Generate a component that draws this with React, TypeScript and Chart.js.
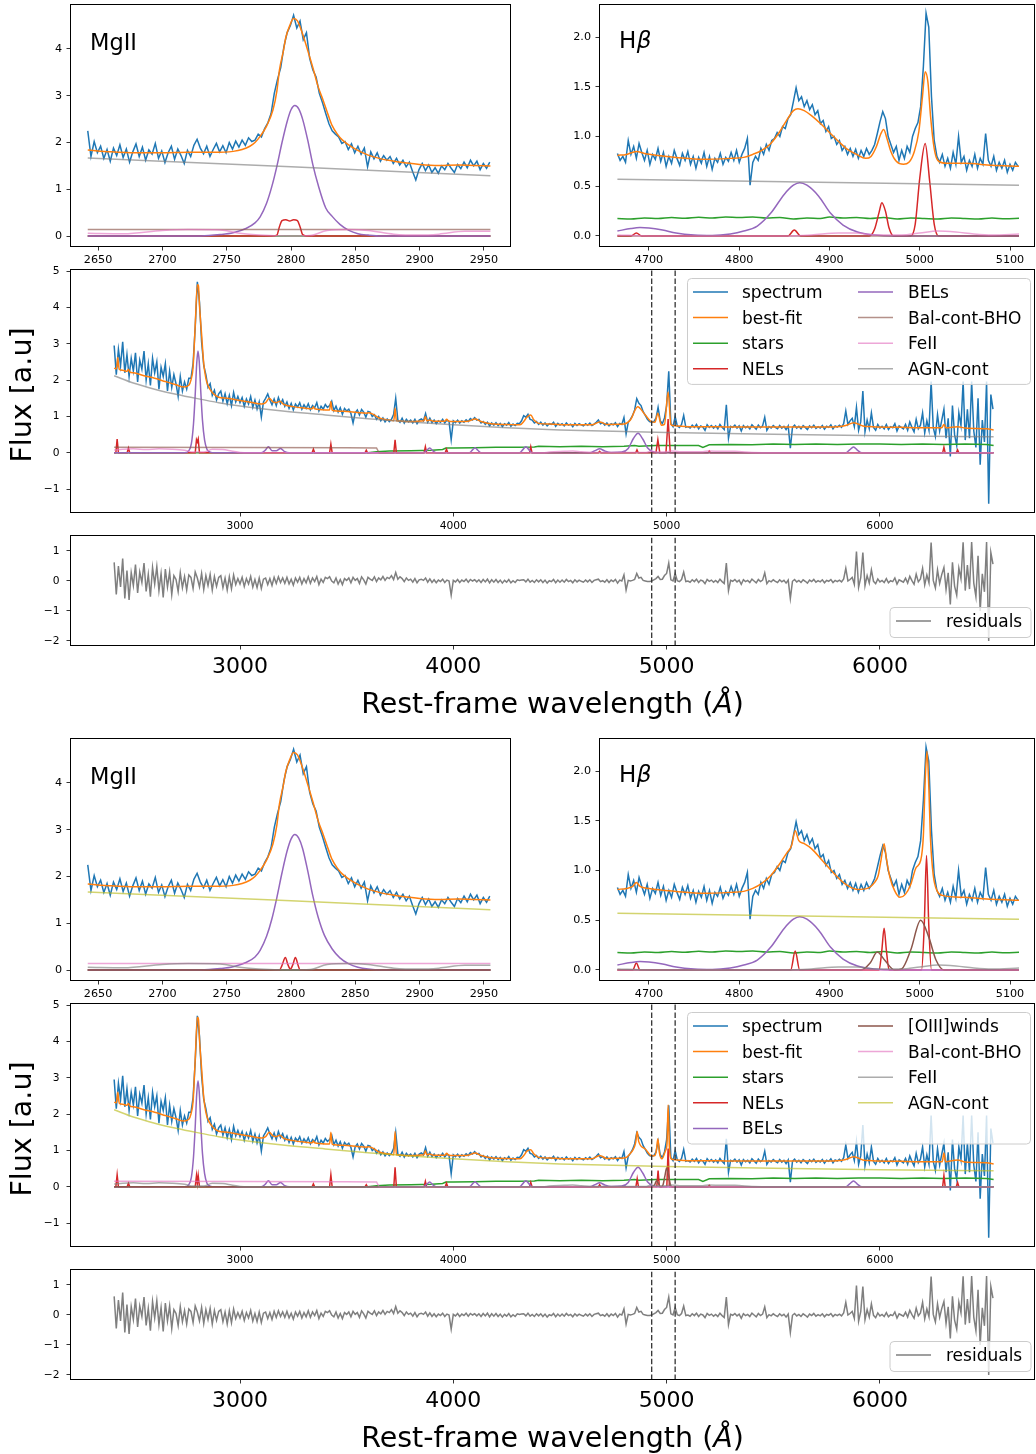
import React, { useEffect, useRef } from 'react';
import { Chart, registerables } from 'chart.js';

Chart.register(...registerables);

type Pt = [number, number];

// ---------------- DATA ----------------
// MgII inset spectrum (regular grid)
const MGII_SPEC_START = 2642;
const MGII_SPEC_STEP = 2.5;
const MGII_SPEC = [
  2.25, 1.70, 2.02, 1.78, 1.92, 1.66, 1.85, 1.60, 1.88, 1.72,
  1.95, 1.68, 1.86, 1.58, 1.80, 1.97, 1.70, 1.90, 1.62, 1.84,
  1.75, 1.98, 1.66, 1.82, 1.57, 1.78, 1.92, 1.64, 1.86, 1.72,
  1.55, 1.83, 1.70, 1.94, 2.07, 1.88, 1.76, 1.92, 1.70, 1.85,
  1.98, 1.80, 1.93, 1.78, 2.00, 1.86, 2.03, 1.90, 2.05, 1.94,
  2.10, 2.02, 2.05, 2.18, 2.12, 2.30, 2.42, 2.62, 3.05, 3.35,
  3.60, 4.05, 4.35, 4.50, 4.72, 4.45, 4.60, 4.20, 4.35, 3.80,
  3.55, 3.40, 3.05, 2.85, 2.62, 2.40, 2.25, 2.18, 2.12, 1.98,
  2.02, 1.85, 1.97, 1.78, 1.92, 1.75, 1.88, 1.48, 1.80, 1.65,
  1.78, 1.60, 1.72, 1.62, 1.70, 1.55, 1.66, 1.52, 1.62, 1.48,
  1.58, 1.38, 1.20, 1.42, 1.55, 1.40, 1.52, 1.36, 1.46, 1.34,
  1.50, 1.42, 1.55, 1.45, 1.36, 1.53, 1.44, 1.58, 1.46, 1.62,
  1.50, 1.60, 1.42, 1.55, 1.45, 1.58,
];
const MGII_BESTFIT: Pt[] = [
  [2642, 1.84], [2660, 1.80], [2680, 1.78], [2700, 1.78], [2720, 1.79], [2740, 1.79], [2755, 1.81],
  [2762, 1.85], [2768, 1.92], [2772, 2.0], [2776, 2.13], [2781, 2.35], [2786, 2.7], [2789, 3.1],
  [2791, 3.55], [2794, 3.95], [2796, 4.25], [2799, 4.5], [2802, 4.65], [2805, 4.6], [2808, 4.4],
  [2812, 4.06], [2817, 3.6], [2821, 3.2], [2825, 2.9], [2829, 2.58], [2832, 2.36], [2836, 2.18],
  [2840, 2.05], [2848, 1.89], [2860, 1.73], [2870, 1.65], [2880, 1.6], [2890, 1.56], [2900, 1.53],
  [2915, 1.51], [2930, 1.52], [2942, 1.51], [2955, 1.5],
];
const MGII_ZERO: Pt[] = [[2642, 0], [2955, 0]];
const MGII_NELS_1: Pt[] = [
  [2642, 0], [2785, 0], [2789, 0.02], [2791, 0.2], [2793, 0.33], [2796, 0.35], [2799, 0.32],
  [2802, 0.35], [2805, 0.33], [2807, 0.2], [2809, 0.03], [2812, 0], [2955, 0],
];
const MGII_NELS_2: Pt[] = [
  [2642, 0], [2791, 0], [2793, 0.1], [2795.6, 0.27], [2797.5, 0.12], [2799.5, 0.02],
  [2801.5, 0.12], [2803.4, 0.27], [2805.5, 0.1], [2807, 0], [2955, 0],
];
const MGII_BELS_1: Pt[] = [
  [2642, 0], [2730, 0], [2745, 0.03], [2755, 0.07], [2765, 0.16], [2772, 0.28], [2776, 0.41],
  [2781, 0.7], [2785, 1.05], [2789, 1.49], [2793, 2.0], [2797, 2.45], [2800, 2.7], [2803, 2.79],
  [2806, 2.72], [2809, 2.5], [2813, 2.05], [2817, 1.52], [2821, 1.1], [2827, 0.6], [2832, 0.42],
  [2838, 0.25], [2845, 0.12], [2852, 0.05], [2860, 0.02], [2870, 0], [2955, 0],
];
const MGII_BELS_2: Pt[] = [
  [2642, 0], [2730, 0], [2745, 0.03], [2755, 0.07], [2765, 0.16], [2772, 0.28], [2776, 0.42],
  [2781, 0.72], [2785, 1.08], [2789, 1.55], [2793, 2.08], [2797, 2.55], [2800, 2.8], [2803, 2.9],
  [2806, 2.82], [2809, 2.6], [2813, 2.12], [2817, 1.58], [2821, 1.14], [2826, 0.74], [2832, 0.45],
  [2838, 0.26], [2845, 0.13], [2852, 0.06], [2860, 0.02], [2870, 0], [2955, 0],
];
const MGII_BALCONT: Pt[] = [[2642, 0.14], [2955, 0.14]];
const MGII_FEII: Pt[] = [
  [2642, 0.06], [2670, 0.05], [2700, 0.12], [2720, 0.14], [2745, 0.13], [2760, 0.06], [2775, 0.02],
  [2800, 0.0], [2815, 0.01], [2828, 0.12], [2845, 0.14], [2860, 0.12], [2880, 0.04], [2900, 0.02],
  [2915, 0.04], [2935, 0.1], [2955, 0.1],
];
const MGII_AGN: Pt[] = [[2642, 1.67], [2800, 1.48], [2955, 1.29]];

// Hbeta inset spectrum (regular grid)
const HB_SPEC_START = 4665;
const HB_SPEC_STEP = 3;
const HB_SPEC = [
  0.83, 0.76, 0.80, 0.74, 0.96, 0.82, 0.90, 0.78, 0.93, 0.84,
  0.76, 0.86, 0.72, 0.82, 0.77, 0.88, 0.75, 0.84, 0.70, 0.80,
  0.73, 0.86, 0.78, 0.71, 0.83, 0.76, 0.85, 0.72, 0.80, 0.68,
  0.79, 0.73, 0.84, 0.70, 0.80, 0.67, 0.78, 0.74, 0.83, 0.72,
  0.79, 0.75, 0.84, 0.76, 0.86, 0.74, 0.82, 0.88, 0.98, 0.51,
  0.74, 0.80, 0.76, 0.88, 0.82, 0.92, 0.86, 0.96, 0.98, 1.04,
  1.00, 1.10, 1.08, 1.18, 1.22, 1.35, 1.49, 1.36, 1.40, 1.30,
  1.36, 1.27, 1.32, 1.22, 1.26, 1.13, 1.16, 1.05, 1.10, 0.98,
  1.00, 0.92, 0.96, 0.86, 0.90, 0.82, 0.88, 0.80, 0.87, 0.78,
  0.86, 0.80, 0.88, 0.82, 0.86, 0.92, 1.03, 1.15, 1.25, 1.18,
  1.00, 0.92, 0.84, 0.90, 0.76, 0.86, 0.78, 0.90, 0.84, 1.00,
  1.08, 1.14, 1.30, 1.70, 2.24, 2.10, 1.40, 0.96, 0.80, 0.74,
  0.82, 0.70, 0.78, 0.68, 0.84, 0.72, 1.00, 0.74, 0.80, 0.66,
  0.76, 0.70, 0.82, 0.68, 0.78, 0.72, 1.03, 0.76, 0.70, 0.80,
  0.66, 0.74, 0.68, 0.76, 0.64, 0.72, 0.66, 0.74, 0.70,
];
const HB_BESTFIT_1: Pt[] = [
  [4665, 0.81], [4675, 0.82], [4686, 0.85], [4695, 0.83], [4710, 0.81], [4730, 0.79], [4760, 0.77],
  [4790, 0.78], [4805, 0.79], [4815, 0.82], [4825, 0.86], [4835, 0.93], [4845, 1.05], [4853, 1.17],
  [4860, 1.26], [4865, 1.28], [4872, 1.26], [4880, 1.21], [4890, 1.13], [4900, 1.04], [4910, 0.95],
  [4920, 0.87], [4930, 0.82], [4940, 0.78], [4946, 0.8], [4952, 0.9], [4957, 1.03], [4960, 1.07],
  [4964, 0.97], [4968, 0.85], [4974, 0.75], [4982, 0.72], [4988, 0.74], [4994, 0.85], [4999, 1.05],
  [5003, 1.4], [5006, 1.65], [5009, 1.55], [5012, 1.2], [5016, 0.88], [5020, 0.76], [5030, 0.73],
  [5050, 0.73], [5080, 0.71], [5110, 0.7],
];
const HB_BESTFIT_2: Pt[] = [
  [4665, 0.81], [4675, 0.82], [4682, 0.84], [4686, 0.88], [4690, 0.84], [4700, 0.82], [4730, 0.79],
  [4760, 0.77], [4790, 0.78], [4805, 0.79], [4815, 0.82], [4825, 0.87], [4835, 0.95], [4845, 1.07],
  [4853, 1.18], [4858, 1.25], [4862, 1.4], [4866, 1.3], [4872, 1.27], [4880, 1.22], [4893, 1.09],
  [4905, 0.97], [4918, 0.86], [4931, 0.81], [4942, 0.82], [4950, 0.88], [4954, 0.95], [4957, 1.1],
  [4960.5, 1.27], [4963, 1.12], [4967, 0.93], [4972, 0.8], [4978, 0.73], [4984, 0.76], [4990, 0.86],
  [4996, 1.03], [5001, 1.1], [5004, 1.35], [5006, 1.9], [5008, 2.2], [5010, 1.85], [5012, 1.3],
  [5015, 0.95], [5019, 0.8], [5025, 0.75], [5050, 0.73], [5080, 0.71], [5110, 0.7],
];
const HB_STARS: Pt[] = [
  [4665, 0.175], [4680, 0.17], [4695, 0.18], [4710, 0.175], [4725, 0.185], [4740, 0.178], [4755, 0.188],
  [4770, 0.18], [4785, 0.19], [4800, 0.185], [4815, 0.19], [4830, 0.18], [4845, 0.185], [4860, 0.17],
  [4875, 0.18], [4890, 0.175], [4900, 0.19], [4915, 0.18], [4930, 0.185], [4945, 0.175], [4960, 0.185],
  [4975, 0.17], [4990, 0.18], [5005, 0.175], [5020, 0.17], [5035, 0.18], [5050, 0.175], [5065, 0.17],
  [5080, 0.18], [5095, 0.172], [5110, 0.178],
];
const HB_NELS_1: Pt[] = [
  [4665, 0], [4680, 0], [4686, 0.03], [4692, 0], [4854, 0], [4861, 0.06], [4868, 0], [4944, 0],
  [4950, 0.07], [4955, 0.24], [4958, 0.335], [4962, 0.25], [4966, 0.08], [4971, 0], [4990, 0],
  [4995, 0.12], [5000, 0.58], [5006, 0.93], [5011, 0.55], [5016, 0.12], [5021, 0], [5110, 0],
];
const HB_NELS_2: Pt[] = [
  [4665, 0], [4682, 0], [4686, 0.07], [4690, 0], [4857, 0], [4862, 0.19], [4867, 0], [4955, 0],
  [4958, 0.2], [4960.5, 0.42], [4963, 0.2], [4966, 0], [5002, 0], [5005, 0.45], [5007.5, 1.15],
  [5010, 0.45], [5013, 0], [5110, 0],
];
const HB_BELS: Pt[] = [
  [4665, 0.05], [4680, 0.075], [4690, 0.084], [4700, 0.08], [4715, 0.06], [4730, 0.03], [4750, 0.01],
  [4770, 0.005], [4790, 0.02], [4805, 0.05], [4820, 0.1], [4835, 0.23], [4850, 0.42], [4860, 0.51],
  [4867, 0.536], [4875, 0.51], [4888, 0.4], [4901, 0.23], [4915, 0.11], [4931, 0.04], [4950, 0.01],
  [4970, 0], [5110, 0],
];
const HB_OIII_WINDS: Pt[] = [
  [4665, 0], [4935, 0], [4945, 0.07], [4953, 0.18], [4961, 0.1], [4972, 0], [4980, 0.01], [4990, 0.2],
  [5001, 0.5], [5010, 0.33], [5018, 0.1], [5027, 0], [5110, 0],
];
const HB_ZERO: Pt[] = [[4665, 0], [5110, 0]];
const HB_FEII: Pt[] = [
  [4665, 0.01], [4700, 0.0], [4850, 0.0], [4880, 0.01], [4910, 0.03], [4930, 0.03], [4950, 0.01],
  [4980, 0.01], [5000, 0.03], [5020, 0.05], [5040, 0.04], [5060, 0.02], [5080, 0.01], [5110, 0.02],
];
const HB_AGN: Pt[] = [[4665, 0.57], [5110, 0.51]];

// Full spectrum (regular grid)
const MAIN_START = 2410;
const MAIN_STEP = 10;
const MAIN_SPEC = [
  2.95, 2.15, 2.85, 2.40, 3.05, 2.20, 2.70, 2.10, 2.60, 2.25,
  2.75, 1.95, 2.55, 2.30, 2.80, 2.00, 2.45, 1.85, 2.60, 2.20,
  2.50, 1.75, 2.35, 2.10, 2.45, 1.70, 2.25, 1.80, 2.15, 1.90,
  1.55, 2.10, 1.70, 1.95, 1.75, 2.05, 2.05, 2.45, 3.45, 4.70,
  4.15, 3.05, 2.40, 2.15, 1.80, 1.90, 1.58, 1.72, 1.45, 1.62,
  1.70, 1.42, 1.62, 1.35, 1.58, 1.30, 1.66, 1.40, 1.55, 1.38,
  1.52, 1.28, 1.48, 1.34, 1.55, 1.25, 1.45, 1.20, 1.40, 0.98,
  1.40, 1.50, 1.62, 1.45, 1.32, 1.48, 1.30, 1.52, 1.35, 1.46,
  1.28, 1.40, 1.22, 1.36, 1.18, 1.34, 1.26, 1.38, 1.20, 1.32,
  1.22, 1.35, 1.18, 1.30, 1.24, 1.38, 1.15, 1.28, 1.20, 1.33,
  1.25, 1.30, 1.42, 1.16, 1.28, 1.12, 1.24, 1.06, 1.22, 1.15,
  1.20, 1.08, 0.82, 1.10, 1.18, 1.04, 1.19, 1.12, 0.98, 1.14,
  1.12, 1.00, 1.05, 0.92, 1.00, 0.88, 0.96, 0.85, 0.93, 0.86,
  0.92, 1.05, 1.50, 0.90, 0.84, 0.95, 0.82, 0.92, 0.85, 0.90,
  0.82, 0.92, 0.80, 0.90, 0.93, 0.88, 1.08, 0.84, 0.95, 0.83,
  0.90, 0.80, 0.88, 0.84, 0.92, 0.82, 0.90, 0.86, 0.36, 0.88,
  0.83, 0.90, 0.82, 0.88, 0.84, 0.91, 0.86, 0.94, 0.90, 0.97,
  0.90, 0.92, 0.82, 0.86, 0.78, 0.84, 0.74, 0.82, 0.76, 0.83,
  0.75, 0.81, 0.72, 0.80, 0.76, 0.83, 0.73, 0.79, 0.75, 0.81,
  0.80, 0.88, 1.02, 0.98, 1.06, 0.92, 0.90, 0.82, 0.86, 0.78,
  0.84, 0.76, 0.82, 0.74, 0.80, 0.78, 0.84, 0.73, 0.81, 0.76,
  0.80, 0.74, 0.82, 0.76, 0.79, 0.72, 0.81, 0.75, 0.80, 0.77,
  0.74, 0.80, 0.76, 0.82, 0.75, 0.79, 0.84, 0.90, 0.80, 0.83,
  0.76, 0.82, 0.74, 0.80, 0.77, 0.83, 0.72, 0.81, 0.78, 0.97,
  0.52, 0.84, 0.92, 1.02, 1.18, 1.49, 1.36, 1.30, 1.13, 1.03,
  0.92, 0.86, 0.84, 0.86, 0.95, 1.25, 0.88, 0.80, 0.96, 1.30,
  2.24, 0.80, 0.72, 1.00, 0.74, 0.70, 0.78, 1.03, 0.70, 0.72,
  0.68, 0.76, 0.70, 0.78, 0.66, 0.74, 0.71, 0.62, 0.77, 0.70,
  0.75, 0.68, 0.74, 0.66, 0.78, 0.70, 0.64, 1.32, 0.40, 0.73,
  0.70, 0.76, 0.68, 0.74, 0.60, 0.75, 0.69, 0.73, 0.66, 0.77,
  0.71, 0.65, 0.76, 0.69, 0.74, 0.98, 0.62, 0.72, 0.68, 0.75,
  0.70, 0.66, 0.75, 0.68, 0.73, 0.64, 0.74, 0.13, 0.70, 0.76,
  0.68, 0.73, 0.66, 0.75, 0.70, 0.64, 0.74, 0.69, 0.76, 0.67,
  0.72, 0.68, 0.75, 0.65, 0.73, 0.70, 0.77, 0.66, 0.74, 0.71,
  0.76, 0.70, 0.80, 1.15, 0.78, 0.88, 0.95, 0.72, 1.25, 0.62,
  0.85, 1.70, 0.58, 0.90, 0.66, 1.10, 0.70, 0.62, 0.78, 0.68,
  0.73, 0.66, 0.78, 0.64, 0.72, 0.69, 0.80, 0.60, 0.74, 0.70,
  0.66, 0.78, 0.62, 0.85, 0.70, 0.58, 0.92, 0.66, 0.76, 1.10,
  0.55, 0.88, 0.62, 1.96, 0.70, 0.45, 1.05, 0.60, 0.90, 1.20,
  0.40, 0.95, -0.10, 1.30, 0.50, 0.20, 1.10, 0.75, 1.96, 0.35,
  1.20, 0.40, 1.96, 0.60, 0.15, 1.50, -0.33, 0.90, 0.30, 1.96,
  -1.40, 1.60, 1.20,
];
const MAIN_RESID = [
  0.62, -0.45, 0.50, -0.20, 0.75, -0.58, 0.35, -0.63, 0.28, -0.15,
  0.55, -0.40, 0.30, -0.05, 0.60, -0.35, 0.22, -0.52, 0.45, -0.10,
  0.48, -0.32, 0.25, -0.55, 0.40, -0.20, 0.30, -0.45, 0.18, 0.05,
  -0.35, 0.28, -0.22, 0.15, -0.30, 0.20, 0.12, -0.25, 0.30, 0.10,
  -0.20, 0.25, -0.28, 0.18, -0.15, 0.22, -0.30, 0.15, -0.18, 0.12,
  0.18, -0.22, 0.10, -0.30, 0.14, -0.26, 0.20, -0.12, 0.08, -0.10,
  0.12, -0.18, 0.08, -0.10, 0.15, -0.20, 0.05, -0.22, 0.10, -0.25,
  0.06, 0.10, -0.12, 0.08, -0.15, 0.12, -0.08, 0.14, -0.05, 0.10,
  -0.08, 0.12, -0.10, 0.06, -0.14, 0.10, -0.04, 0.12, -0.10, 0.08,
  -0.06, 0.14, -0.08, 0.10, -0.02, 0.15, -0.12, 0.06, -0.05, 0.12,
  0.08, 0.14, 0.00, -0.06, 0.10, -0.10, 0.05, -0.12, 0.08, 0.02,
  0.10, -0.06, 0.12, 0.02, 0.08, -0.08, 0.14, 0.04, -0.10, 0.12,
  0.06, 0.02, 0.14, -0.02, 0.10, 0.04, 0.15, 0.02, 0.12, 0.08,
  0.18, 0.05, 0.28, 0.06, 0.14, 0.08, -0.02, 0.10, 0.02, 0.06,
  -0.04, 0.08, -0.06, 0.04, 0.06, 0.02, 0.10, -0.04, 0.07, -0.05,
  0.04, -0.06, 0.03, -0.02, 0.06, -0.05, 0.03, 0.00, -0.47, 0.02,
  -0.03, 0.05, -0.05, 0.03, -0.02, 0.06, -0.04, 0.05, 0.00, 0.04,
  -0.03, 0.04, -0.05, 0.05, -0.03, 0.06, -0.06, 0.04, -0.04, 0.05,
  -0.05, 0.03, -0.07, 0.02, -0.04, 0.05, -0.06, 0.01, -0.05, 0.04,
  0.02, 0.03, 0.04, -0.03, 0.06, -0.04, 0.02, -0.05, 0.04, -0.03,
  0.04, -0.05, 0.03, -0.07, 0.01, -0.02, 0.05, -0.06, 0.03, -0.04,
  0.03, -0.04, 0.05, -0.02, 0.02, -0.06, 0.04, -0.03, 0.03, -0.01,
  -0.04, 0.03, -0.03, 0.04, -0.05, 0.02, 0.04, 0.06, -0.02, 0.01,
  -0.04, 0.04, -0.05, 0.03, -0.02, 0.05, -0.07, 0.03, 0.00, 0.20,
  -0.30, 0.02, 0.00, 0.02, 0.05, 0.25, 0.10, 0.12, 0.02, 0.00,
  -0.02, -0.02, 0.00, 0.04, 0.08, 0.15, 0.05, 0.06, 0.18, 0.25,
  0.60, 0.04, 0.00, 0.25, 0.01, -0.02, 0.05, 0.30, -0.02, 0.00,
  -0.04, 0.04, -0.02, 0.06, -0.05, 0.03, 0.00, -0.09, 0.05, -0.01,
  0.03, -0.04, 0.02, -0.05, 0.06, -0.02, -0.08, 0.60, -0.32, 0.02,
  -0.01, 0.05, -0.03, 0.03, -0.11, 0.04, -0.02, 0.02, -0.05, 0.06,
  0.00, -0.06, 0.05, -0.02, 0.03, 0.27, -0.09, 0.01, -0.03, 0.04,
  -0.01, -0.05, 0.04, -0.03, 0.02, -0.07, 0.03, -0.58, -0.01, 0.05,
  -0.03, 0.02, -0.05, 0.04, -0.01, -0.07, 0.03, -0.02, 0.05, -0.04,
  0.01, -0.03, 0.04, -0.06, 0.02, -0.01, 0.05, -0.05, 0.02, -0.02,
  0.03, -0.03, 0.07, 0.42, 0.00, 0.05, 0.12, -0.11, 0.98, -0.21,
  0.11, 0.95, -0.16, 0.18, -0.07, 0.37, -0.01, -0.09, 0.07, -0.03,
  0.02, -0.05, 0.08, -0.06, 0.01, -0.02, 0.10, -0.10, 0.04, 0.00,
  -0.04, 0.09, -0.07, 0.16, 0.01, -0.11, 0.23, -0.03, 0.07, 0.42,
  -0.13, 0.20, -0.06, 1.28, 0.02, -0.23, 0.37, -0.08, 0.22, 0.45,
  -0.28, 0.27, -0.78, 0.62, -0.17, -0.47, 0.43, 0.08, 1.29, -0.32,
  0.53, -0.27, 1.30, -0.07, -0.52, 0.84, -1.00, 0.24, -0.36, 1.30,
  -2.00, 0.95, 0.56,
];
const MAIN_BESTFIT_1: Pt[] = [
  [2410, 2.33], [2420, 2.31], [2424, 2.45], [2427, 2.62], [2430, 2.45], [2434, 2.3], [2450, 2.27],
  [2470, 2.24], [2477, 2.3], [2484, 2.22], [2500, 2.2], [2550, 2.12], [2600, 2.05], [2650, 1.96],
  [2700, 1.87], [2735, 1.81], [2760, 1.86], [2770, 2.0], [2780, 2.35], [2790, 3.5], [2800, 4.62],
  [2805, 4.6], [2810, 4.06], [2820, 3.25], [2830, 2.45], [2840, 2.05], [2850, 1.85], [2860, 1.74],
  [2880, 1.6], [2900, 1.53], [2940, 1.5], [3000, 1.44], [3050, 1.39], [3100, 1.34], [3120, 1.38],
  [3137, 1.5], [3155, 1.4], [3170, 1.38], [3187, 1.42], [3205, 1.33], [3250, 1.27], [3300, 1.23],
  [3338, 1.21], [3344, 1.27], [3350, 1.21], [3400, 1.18], [3420, 1.18], [3426, 1.41], [3432, 1.17],
  [3484, 1.14], [3550, 1.11], [3594, 1.09], [3600, 1.1], [3620, 1.07], [3656, 0.95], [3700, 0.9],
  [3721, 0.88], [3727, 1.23], [3733, 0.88], [3797, 0.86], [3862, 0.88], [3869, 1.0], [3876, 0.88],
  [3889, 0.9], [3906, 0.87], [3960, 0.87], [3969, 0.92], [3978, 0.87], [4031, 0.86], [4070, 0.87],
  [4102, 0.93], [4130, 0.86], [4188, 0.79], [4250, 0.78], [4313, 0.77], [4330, 0.86], [4345, 0.98],
  [4363, 1.04], [4378, 0.9], [4400, 0.81], [4453, 0.79], [4550, 0.77], [4650, 0.77], [4686, 0.85],
  [4720, 0.78], [4800, 0.79], [4830, 0.9], [4864, 1.27], [4900, 1.04], [4930, 0.85], [4945, 0.84],
  [4959, 1.09], [4975, 0.76], [4990, 0.78], [5007, 1.67], [5020, 0.78], [5028, 0.75], [5100, 0.72],
  [5200, 0.72], [5300, 0.71], [5500, 0.71], [5700, 0.71], [5800, 0.72], [5840, 0.75], [5878, 0.83],
  [5920, 0.74], [5964, 0.72], [6100, 0.7], [6200, 0.69], [6290, 0.69], [6300, 0.78], [6310, 0.69],
  [6364, 0.72], [6400, 0.68], [6500, 0.66], [6533, 0.63],
];
const MAIN_BESTFIT_2: Pt[] = [
  [2410, 2.33], [2420, 2.31], [2424, 2.45], [2427, 2.6], [2430, 2.45], [2434, 2.3], [2450, 2.27],
  [2470, 2.24], [2477, 2.29], [2484, 2.22], [2500, 2.2], [2550, 2.12], [2600, 2.05], [2650, 1.96],
  [2700, 1.87], [2735, 1.81], [2760, 1.86], [2770, 2.0], [2780, 2.35], [2790, 3.5], [2800, 4.66],
  [2805, 4.62], [2810, 4.06], [2820, 3.25], [2830, 2.45], [2840, 2.05], [2850, 1.85], [2860, 1.74],
  [2880, 1.6], [2900, 1.53], [2940, 1.5], [3000, 1.44], [3050, 1.39], [3100, 1.34], [3120, 1.38],
  [3137, 1.5], [3155, 1.4], [3170, 1.38], [3187, 1.42], [3205, 1.33], [3250, 1.27], [3300, 1.23],
  [3338, 1.21], [3344, 1.26], [3350, 1.21], [3400, 1.18], [3420, 1.18], [3426, 1.5], [3432, 1.17],
  [3484, 1.14], [3550, 1.11], [3594, 1.09], [3600, 1.1], [3620, 1.07], [3656, 0.95], [3700, 0.9],
  [3721, 0.88], [3727, 1.52], [3733, 0.88], [3797, 0.86], [3862, 0.88], [3869, 0.99], [3876, 0.88],
  [3889, 0.9], [3906, 0.87], [3960, 0.87], [3969, 0.92], [3978, 0.87], [4031, 0.86], [4070, 0.87],
  [4102, 0.93], [4130, 0.86], [4188, 0.79], [4250, 0.78], [4313, 0.77], [4330, 0.86], [4345, 0.98],
  [4363, 1.02], [4378, 0.9], [4400, 0.81], [4453, 0.79], [4550, 0.77], [4650, 0.77], [4686, 0.86],
  [4720, 0.78], [4800, 0.79], [4830, 0.92], [4855, 1.22], [4862, 1.52], [4869, 1.25], [4900, 1.04],
  [4930, 0.85], [4945, 0.86], [4952, 1.0], [4959, 1.32], [4966, 0.95], [4978, 0.77], [4995, 1.0],
  [5002, 1.2], [5007, 2.25], [5013, 1.1], [5020, 0.78], [5028, 0.75], [5100, 0.72], [5200, 0.72],
  [5300, 0.71], [5500, 0.71], [5700, 0.71], [5800, 0.72], [5840, 0.75], [5878, 0.83], [5920, 0.74],
  [5964, 0.72], [6100, 0.7], [6200, 0.69], [6292, 0.69], [6300, 0.93], [6308, 0.69], [6364, 0.74],
  [6400, 0.68], [6500, 0.66], [6533, 0.63],
];
const MAIN_STARS: Pt[] = [
  [2410, 0], [3600, 0], [3640, 0.03], [3700, 0.05], [3800, 0.06], [3900, 0.07], [3950, 0.09],
  [3965, 0.13], [4000, 0.13], [4100, 0.14], [4200, 0.15], [4300, 0.15], [4380, 0.16], [4400, 0.18],
  [4500, 0.17], [4600, 0.18], [4700, 0.17], [4800, 0.18], [4850, 0.2], [4870, 0.18], [4950, 0.2],
  [5050, 0.2], [5150, 0.2], [5170, 0.15], [5200, 0.22], [5300, 0.23], [5400, 0.22], [5500, 0.24],
  [5600, 0.23], [5700, 0.24], [5800, 0.23], [5900, 0.24], [6000, 0.24], [6100, 0.23], [6200, 0.24],
  [6300, 0.23], [6400, 0.24], [6500, 0.23], [6533, 0.2],
];
const MAIN_NELS_1: Pt[] = [
  [2410, 0], [2418, 0], [2424, 0.38], [2430, 0], [2471, 0], [2477, 0.13], [2483, 0], [2790, 0],
  [2796, 0.36], [2800, 0.3], [2804, 0.38], [2810, 0], [3338, 0], [3344, 0.1], [3350, 0], [3420, 0],
  [3426, 0.24], [3432, 0], [3586, 0], [3592, 0.07], [3598, 0], [3721, 0], [3727, 0.36], [3733, 0],
  [3863, 0], [3869, 0.17], [3875, 0], [3962, 0], [3968, 0.1], [3974, 0], [4357, 0], [4363, 0.17],
  [4369, 0], [4680, 0], [4686, 0.04], [4692, 0], [4855, 0], [4861, 0.08], [4867, 0], [4950, 0],
  [4959, 0.36], [4968, 0], [4997, 0], [5007, 0.93], [5017, 0], [5194, 0], [5200, 0.05], [5206, 0],
  [6294, 0], [6300, 0.15], [6306, 0], [6358, 0], [6364, 0.08], [6370, 0], [6533, 0],
];
const MAIN_NELS_2: Pt[] = [
  [2410, 0], [2418, 0], [2424, 0.33], [2430, 0], [2471, 0], [2477, 0.1], [2483, 0], [2790, 0],
  [2796, 0.31], [2800, 0.1], [2804, 0.31], [2810, 0], [3338, 0], [3344, 0.08], [3350, 0], [3420, 0],
  [3426, 0.33], [3432, 0], [3586, 0], [3592, 0.06], [3598, 0], [3721, 0], [3727, 0.54], [3733, 0],
  [3863, 0], [3869, 0.15], [3875, 0], [3962, 0], [3968, 0.1], [3974, 0], [4357, 0], [4363, 0.12],
  [4369, 0], [4680, 0], [4686, 0.06], [4692, 0], [4856, 0], [4862, 0.22], [4868, 0], [4954, 0],
  [4960, 0.45], [4966, 0], [5001, 0], [5007, 1.05], [5013, 0], [5194, 0], [5200, 0.04], [5206, 0],
  [6294, 0], [6300, 0.31], [6306, 0], [6358, 0], [6364, 0.12], [6370, 0], [6533, 0],
];
const MAIN_BELS_1: Pt[] = [
  [2410, 0], [2740, 0], [2760, 0.06], [2772, 0.25], [2782, 0.8], [2790, 1.6], [2797, 2.45],
  [2803, 2.8], [2809, 2.5], [2816, 1.7], [2824, 0.9], [2834, 0.35], [2845, 0.1], [2860, 0.02],
  [2880, 0], [3100, 0], [3120, 0.08], [3133, 0.17], [3150, 0.06], [3170, 0.06], [3190, 0.12],
  [3210, 0.03], [3230, 0], [3860, 0], [3875, 0.07], [3889, 0.13], [3905, 0.05], [3920, 0], [4075, 0],
  [4090, 0.08], [4102, 0.14], [4115, 0.07], [4130, 0], [4310, 0], [4325, 0.08], [4340, 0.17],
  [4355, 0.08], [4370, 0], [4640, 0], [4665, 0.06], [4686, 0.11], [4710, 0.05], [4740, 0.01],
  [4790, 0.02], [4820, 0.12], [4845, 0.4], [4866, 0.54], [4888, 0.38], [4910, 0.14], [4935, 0.03],
  [4960, 0], [5840, 0], [5858, 0.08], [5876, 0.16], [5895, 0.07], [5915, 0], [6533, 0],
];
const MAIN_BELS_2: Pt[] = [
  [2410, 0], [2740, 0], [2760, 0.06], [2772, 0.26], [2782, 0.82], [2790, 1.65], [2797, 2.55],
  [2803, 2.92], [2809, 2.6], [2816, 1.75], [2824, 0.92], [2834, 0.36], [2845, 0.1], [2860, 0.02],
  [2880, 0], [3100, 0], [3120, 0.08], [3133, 0.17], [3150, 0.06], [3170, 0.06], [3190, 0.12],
  [3210, 0.03], [3230, 0], [3860, 0], [3875, 0.07], [3889, 0.13], [3905, 0.05], [3920, 0], [4075, 0],
  [4090, 0.08], [4102, 0.14], [4115, 0.07], [4130, 0], [4310, 0], [4325, 0.08], [4340, 0.17],
  [4355, 0.08], [4370, 0], [4640, 0], [4665, 0.06], [4686, 0.11], [4710, 0.05], [4740, 0.01],
  [4790, 0.02], [4820, 0.12], [4845, 0.4], [4866, 0.54], [4888, 0.38], [4910, 0.14], [4935, 0.03],
  [4960, 0], [5840, 0], [5858, 0.08], [5876, 0.16], [5895, 0.07], [5915, 0], [6533, 0],
];
const MAIN_OIII_WINDS: Pt[] = [
  [2410, 0], [4935, 0], [4945, 0.07], [4953, 0.17], [4962, 0.09], [4972, 0], [4982, 0.04],
  [4992, 0.3], [5000, 0.52], [5008, 0.35], [5018, 0.05], [5026, 0], [6533, 0],
];
const MAIN_BALCONT: Pt[] = [[2410, 0.15], [3000, 0.145], [3500, 0.14], [3640, 0.135], [3652, 0], [6533, 0]];
const MAIN_FEII: Pt[] = [
  [2410, 0.08], [2450, 0.1], [2500, 0.11], [2560, 0.09], [2620, 0.11], [2680, 0.1], [2740, 0.07],
  [2780, 0.02], [2830, 0.02], [2870, 0.1], [2920, 0.09], [2960, 0.05], [3000, 0.01], [3100, 0],
  [4420, 0], [4450, 0.02], [4520, 0.04], [4560, 0.05], [4600, 0.03], [4650, 0.01], [4900, 0.01],
  [4925, 0.04], [4960, 0.02], [5000, 0.03], [5020, 0.05], [5060, 0.03], [5170, 0.03], [5200, 0.05],
  [5260, 0.04], [5320, 0.04], [5400, 0.01], [5500, 0], [6533, 0],
];
const MAIN_AGN: Pt[] = [
  [2410, 2.12], [2500, 1.92], [2600, 1.75], [2700, 1.61], [2800, 1.49], [2900, 1.38], [3000, 1.29],
  [3200, 1.15], [3400, 1.04], [3600, 0.94], [3800, 0.85], [4000, 0.77], [4250, 0.69], [4500, 0.63],
  [4750, 0.59], [5000, 0.56], [5500, 0.51], [6000, 0.47], [6533, 0.44],
];
const VLINES = [4930, 5040];

// Axis ranges and ticks
const MGII_X: [number, number] = [2628.2, 2971];
const MGII_Y: [number, number] = [-0.235, 4.962];
const MGII_XTICKS = [2650, 2700, 2750, 2800, 2850, 2900, 2950];
const MGII_YTICKS = [0, 1, 2, 3, 4];
const HB_X: [number, number] = [4644.6, 5127.7];
const HB_Y: [number, number] = [-0.111, 2.332];
const HB_XTICKS = [4700, 4800, 4900, 5000, 5100];
const HB_YTICKS = [0, 0.5, 1, 1.5, 2];
const MAIN_X: [number, number] = [2203, 6727];
const MAIN_Y: [number, number] = [-1.655, 5.055];
const MAIN_XTICKS = [3000, 4000, 5000, 6000];
const MAIN_YTICKS = [-1, 0, 1, 2, 3, 4, 5];
const RESID_Y: [number, number] = [-2.167, 1.533];
const RESID_YTICKS = [-2, -1, 0, 1];

// ---------------- STYLE ----------------
const FONT = '"DejaVu Sans", "Liberation Sans", sans-serif';
const C = {
  blue: '#1f77b4', orange: '#ff7f0e', green: '#2ca02c', red: '#d62728', purple: '#9467bd',
  brown: '#8c564b', pink: '#e377c2', gray: '#7f7f7f', olive: '#bcbd22',
};
function fade(hex: string, a = 0.65) {
  const r = parseInt(hex.slice(1, 3), 16), g = parseInt(hex.slice(3, 5), 16), b = parseInt(hex.slice(5, 7), 16);
  return `rgba(${r},${g},${b},${a})`;
}
const minus = (s: string) => s.replace('-', '\u2212');

type LineSpec = { data: Pt[]; color: string; width?: number; smooth?: boolean; dash?: number[] };
interface Panel {
  box: [number, number, number, number];
  area: [number, number, number, number];
  xr: [number, number]; yr: [number, number];
  xTicks: number[]; yTicks: number[];
  xFmt: (v: number) => string; yFmt: (v: number) => string;
  xFont: number; yFont: number; xPad: number; yPad: number;
  lines: LineSpec[];
  decorate?: (ctx: CanvasRenderingContext2D) => void;
}

const grid = (start: number, step: number, vals: number[]): Pt[] => vals.map((v, i) => [start + i * step, v]);

function roundRectPath(ctx: CanvasRenderingContext2D, x: number, y: number, w: number, h: number, r: number) {
  ctx.beginPath();
  ctx.moveTo(x + r, y);
  ctx.lineTo(x + w - r, y);
  ctx.arcTo(x + w, y, x + w, y + r, r);
  ctx.lineTo(x + w, y + h - r);
  ctx.arcTo(x + w, y + h, x + w - r, y + h, r);
  ctx.lineTo(x + r, y + h);
  ctx.arcTo(x, y + h, x, y + h - r, r);
  ctx.lineTo(x, y + r);
  ctx.arcTo(x, y, x + r, y, r);
  ctx.closePath();
}

type LegItem = { label: string; color: string };
function drawLegend(
  ctx: CanvasRenderingContext2D, box: [number, number, number, number],
  cols: { hx: number; tx: number; items: LegItem[] }[], y0: number, step: number,
) {
  const [l, t, r, b] = box;
  ctx.save();
  roundRectPath(ctx, l + 0.5, t + 0.5, r - l, b - t, 4);
  ctx.fillStyle = 'rgba(255,255,255,0.8)';
  ctx.fill();
  ctx.strokeStyle = '#cccccc';
  ctx.lineWidth = 1;
  ctx.stroke();
  ctx.font = `17px ${FONT}`;
  ctx.textBaseline = 'middle';
  ctx.textAlign = 'left';
  cols.forEach((c) => c.items.forEach((it, i) => {
    const y = y0 + i * step;
    ctx.strokeStyle = it.color;
    ctx.lineWidth = 1.5;
    ctx.beginPath();
    ctx.moveTo(c.hx, y);
    ctx.lineTo(c.hx + 35, y);
    ctx.stroke();
    ctx.fillStyle = '#000';
    ctx.fillText(it.label, c.tx, y + 1.5);
  }));
  ctx.restore();
}

function vline(x: number, yr: [number, number]): LineSpec {
  return { data: [[x, yr[0]], [x, yr[1]]], color: '#333333', width: 1.3, dash: [5.5, 2.4] };
}

function makePanels(b: number): Panel[] {
  const dy = b * 734;
  const two = b === 1;
  const fmtInt = (v: number) => minus(String(v));
  const fmt1 = (v: number) => v.toFixed(1);

  const compColors = two
    ? { bal: fade(C.pink), fe: fade(C.gray), agn: fade(C.olive) }
    : { bal: fade(C.brown), fe: fade(C.pink), agn: fade(C.gray) };

  const mgLines: LineSpec[] = [
    { data: grid(MGII_SPEC_START, MGII_SPEC_STEP, MGII_SPEC), color: C.blue },
    { data: MGII_BESTFIT, color: C.orange, smooth: true },
    { data: MGII_ZERO, color: C.green },
    { data: two ? MGII_NELS_2 : MGII_NELS_1, color: C.red, smooth: true },
    { data: two ? MGII_BELS_2 : MGII_BELS_1, color: C.purple, smooth: true },
    ...(two ? [{ data: MGII_ZERO, color: C.brown }] : []),
    { data: MGII_BALCONT, color: compColors.bal },
    { data: MGII_FEII, color: compColors.fe, smooth: true },
    { data: MGII_AGN, color: compColors.agn, smooth: true },
  ];
  const hbLines: LineSpec[] = [
    { data: grid(HB_SPEC_START, HB_SPEC_STEP, HB_SPEC), color: C.blue },
    { data: two ? HB_BESTFIT_2 : HB_BESTFIT_1, color: C.orange, smooth: true },
    { data: HB_STARS, color: C.green, smooth: true },
    { data: two ? HB_NELS_2 : HB_NELS_1, color: C.red, smooth: true },
    { data: HB_BELS, color: C.purple, smooth: true },
    ...(two ? [{ data: HB_OIII_WINDS, color: C.brown, smooth: true }] : []),
    { data: HB_ZERO, color: compColors.bal },
    { data: HB_FEII, color: compColors.fe, smooth: true },
    { data: HB_AGN, color: compColors.agn },
  ];
  const mainLines: LineSpec[] = [
    { data: grid(MAIN_START, MAIN_STEP, MAIN_SPEC), color: C.blue },
    { data: two ? MAIN_BESTFIT_2 : MAIN_BESTFIT_1, color: C.orange, smooth: true },
    { data: MAIN_STARS, color: C.green },
    { data: two ? MAIN_NELS_2 : MAIN_NELS_1, color: C.red },
    { data: two ? MAIN_BELS_2 : MAIN_BELS_1, color: C.purple, smooth: true },
    ...(two ? [{ data: MAIN_OIII_WINDS, color: C.brown, smooth: true }] : []),
    { data: MAIN_BALCONT, color: compColors.bal },
    { data: MAIN_FEII, color: compColors.fe, smooth: true },
    { data: MAIN_AGN, color: compColors.agn, smooth: true },
    ...VLINES.map((v) => vline(v, MAIN_Y)),
  ];
  const residLines: LineSpec[] = [
    { data: grid(MAIN_START, MAIN_STEP, MAIN_RESID), color: C.gray },
    ...VLINES.map((v) => vline(v, RESID_Y)),
  ];

  const legendItems1: LegItem[] = [
    { label: 'spectrum', color: C.blue }, { label: 'best-fit', color: C.orange },
    { label: 'stars', color: C.green }, { label: 'NELs', color: C.red },
  ];
  if (two) legendItems1.push({ label: 'BELs', color: C.purple });
  const legendItems2: LegItem[] = two
    ? [
      { label: '[OIII]winds', color: C.brown }, { label: 'Bal-cont-BHO', color: compColors.bal },
      { label: 'FeII', color: compColors.fe }, { label: 'AGN-cont', color: compColors.agn },
    ]
    : [
      { label: 'BELs', color: C.purple }, { label: 'Bal-cont-BHO', color: compColors.bal },
      { label: 'FeII', color: compColors.fe }, { label: 'AGN-cont', color: compColors.agn },
    ];

  return [
    {
      box: [0, dy - 14, 540, 290], area: [70, dy + 4, 511, dy + 247],
      xr: MGII_X, yr: MGII_Y, xTicks: MGII_XTICKS, yTicks: MGII_YTICKS,
      xFmt: fmtInt, yFmt: fmtInt, xFont: 11.2, yFont: 11.2, xPad: 3, yPad: 4.5,
      lines: mgLines,
      decorate: (ctx) => {
        ctx.font = `22.5px ${FONT}`;
        ctx.fillStyle = '#000';
        ctx.textBaseline = 'alphabetic';
        ctx.textAlign = 'left';
        ctx.fillText('MgII', 90, dy + 49.5);
      },
    },
    {
      box: [540, dy - 14, 496, 290], area: [599, dy + 4, 1035, dy + 247],
      xr: HB_X, yr: HB_Y, xTicks: HB_XTICKS, yTicks: HB_YTICKS,
      xFmt: fmtInt, yFmt: fmt1, xFont: 11.2, yFont: 11.2, xPad: 3, yPad: 4.5,
      lines: hbLines,
      decorate: (ctx) => {
        ctx.font = `23px ${FONT}`;
        ctx.fillStyle = '#000';
        ctx.textBaseline = 'alphabetic';
        ctx.textAlign = 'left';
        ctx.fillText('H', 619, dy + 48);
        const w = ctx.measureText('H').width;
        ctx.font = `italic 23px ${FONT}`;
        ctx.fillText('\u03b2', 619 + w + 0.5, dy + 48);
      },
    },
    {
      box: [0, dy + 251, 1036, 282], area: [70, dy + 269, 1035, dy + 513],
      xr: MAIN_X, yr: MAIN_Y, xTicks: MAIN_XTICKS, yTicks: MAIN_YTICKS,
      xFmt: fmtInt, yFmt: fmtInt, xFont: 10.7, yFont: 10.7, xPad: 3.5, yPad: 7,
      lines: mainLines,
      decorate: (ctx) => {
        ctx.save();
        ctx.translate(31, dy + 395);
        ctx.rotate(-Math.PI / 2);
        ctx.font = `28.5px ${FONT}`;
        ctx.fillStyle = '#000';
        ctx.textAlign = 'center';
        ctx.textBaseline = 'alphabetic';
        ctx.fillText('Flux [a.u]', 0, 0);
        ctx.restore();
        const rows = two ? 5 : 4;
        drawLegend(
          ctx, [687, dy + 278, 1030, dy + 278 + 25.6 * rows + 3.5],
          [{ hx: 693, tx: 742, items: legendItems1 }, { hx: 858, tx: 908, items: legendItems2 }],
          dy + 292, 25.6,
        );
      },
    },
    {
      box: [0, dy + 519, 1036, 215], area: [70, dy + 535, 1035, dy + 646],
      xr: MAIN_X, yr: RESID_Y, xTicks: MAIN_XTICKS, yTicks: RESID_YTICKS,
      xFmt: fmtInt, yFmt: fmtInt, xFont: 22, yFont: 10.7, xPad: 4.5, yPad: 7,
      lines: residLines,
      decorate: (ctx) => {
        drawLegend(ctx, [889.5, dy + 607, 1030.5, dy + 637],
          [{ hx: 896, tx: 946, items: [{ label: 'residuals', color: C.gray }] }], dy + 621, 25.6);
        const parts: [string, boolean][] = [['Rest-frame wavelength (', false], ['\u00c5', true], [')', false]];
        const size = 28.5;
        let total = 0;
        const widths = parts.map(([t, it]) => {
          ctx.font = `${it ? 'italic ' : ''}${size}px ${FONT}`;
          const w = ctx.measureText(t).width;
          total += w;
          return w;
        });
        let x = 552.5 - total / 2;
        ctx.fillStyle = '#000';
        ctx.textBaseline = 'alphabetic';
        ctx.textAlign = 'left';
        parts.forEach(([t, it], i) => {
          ctx.font = `${it ? 'italic ' : ''}${size}px ${FONT}`;
          ctx.fillText(t, x, dy + 713);
          x += widths[i];
        });
      },
    },
  ];
}

const PANELS: Panel[] = [...makePanels(0), ...makePanels(1)];

function buildConfig(p: Panel): any {
  const [cl, ct, cw, ch] = p.box;
  const [al, at, ar, ab] = p.area;
  const n = p.lines.length;
  return {
    type: 'line',
    data: {
      datasets: p.lines.map((l, i) => ({
        data: l.data.map(([x, y]) => ({ x, y })),
        borderColor: l.color,
        borderWidth: l.width ?? 1.5,
        borderDash: l.dash ?? [],
        pointRadius: 0,
        fill: false,
        tension: 0,
        cubicInterpolationMode: l.smooth ? 'monotone' : 'default',
        order: n - i,
      })),
    },
    options: {
      responsive: false,
      maintainAspectRatio: false,
      animation: false,
      events: [],
      layout: { padding: { left: 0, top: at - ct, right: cl + cw - ar, bottom: 0 } },
      plugins: { legend: { display: false }, tooltip: { enabled: false }, title: { display: false } },
      scales: {
        x: {
          type: 'linear', position: 'bottom', min: p.xr[0], max: p.xr[1],
          afterFit: (s: any) => { s.height = ct + ch - ab; },
          afterBuildTicks: (s: any) => { s.ticks = p.xTicks.map((v) => ({ value: v })); },
          ticks: {
            font: { family: FONT, size: p.xFont }, color: '#000', padding: p.xPad,
            maxRotation: 0, minRotation: 0, autoSkip: false,
            callback: (v: number) => p.xFmt(v),
          },
          grid: { display: true, drawOnChartArea: false, drawTicks: true, tickLength: 3.5, color: '#000', lineWidth: 0.8 },
          border: { display: false },
        },
        y: {
          type: 'linear', position: 'left', min: p.yr[0], max: p.yr[1],
          afterFit: (s: any) => { s.width = al - cl; },
          afterBuildTicks: (s: any) => { s.ticks = p.yTicks.map((v) => ({ value: v })); },
          ticks: {
            font: { family: FONT, size: p.yFont }, color: '#000', padding: p.yPad,
            autoSkip: false, callback: (v: number) => p.yFmt(v),
          },
          grid: { display: true, drawOnChartArea: false, drawTicks: true, tickLength: 3.5, color: '#000', lineWidth: 0.8 },
          border: { display: false },
        },
      },
    },
    plugins: [{
      id: 'frameAndText',
      afterDraw(chart: any) {
        const ctx: CanvasRenderingContext2D = chart.ctx;
        const a = chart.chartArea;
        ctx.save();
        ctx.strokeStyle = '#000';
        ctx.lineWidth = 1;
        ctx.strokeRect(a.left + 0.5, a.top + 0.5, a.right - a.left - 1, a.bottom - a.top - 1);
        ctx.restore();
        if (p.decorate) {
          ctx.save();
          ctx.translate(-cl, -ct);
          p.decorate(ctx);
          ctx.restore();
        }
      },
    }],
  };
}

export default function App() {
  const refs = useRef<(HTMLCanvasElement | null)[]>([]);
  useEffect(() => {
    const charts = PANELS.map((p, i) => new Chart(refs.current[i] as HTMLCanvasElement, buildConfig(p)));
    return () => charts.forEach((c) => c.destroy());
  }, []);
  return (
    <div style={{ position: 'absolute', left: 0, top: 0, width: 1036, height: 1454, overflow: 'hidden', background: '#fff' }}>
      {PANELS.map((p, i) => (
        <canvas
          key={i}
          ref={(el) => { refs.current[i] = el; }}
          width={p.box[2]}
          height={p.box[3]}
          style={{ position: 'absolute', left: p.box[0], top: p.box[1], width: p.box[2], height: p.box[3] }}
        />
      ))}
    </div>
  );
}
